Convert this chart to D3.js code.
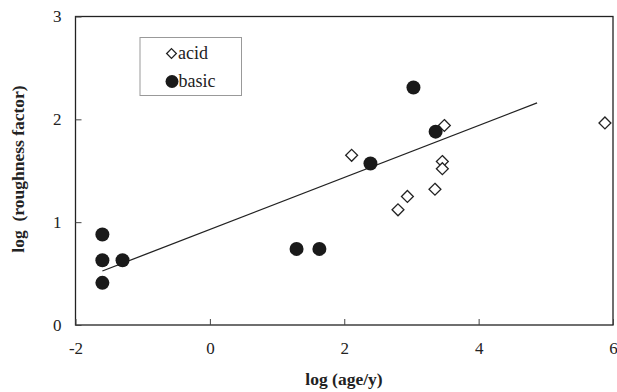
<!DOCTYPE html>
<html><head><meta charset="utf-8">
<script src="https://cdn.jsdelivr.net/npm/d3@7/dist/d3.min.js"></script>
<style>body{margin:0;background:#fff}svg{display:block}text{font-family:"Liberation Serif","Times New Roman",serif;white-space:pre}</style>
</head><body>
<svg id="c" width="617" height="392"></svg>
<script>
const acidX = [2.11, 3.49, 3.46, 3.46, 3.35, 2.94, 2.80, 5.88];
const acidY = [1.65, 1.94, 1.59, 1.52, 1.32, 1.25, 1.12, 1.965];
const basicX = [-1.6, -1.6, -1.6, -1.3, 1.29, 1.63, 3.03, 3.36, 2.39];
const basicY = [0.88, 0.63, 0.41, 0.63, 0.74, 0.74, 2.31, 1.88, 1.57];
const fitX = [-1.6, 4.87];
const fitY = [0.525, 2.16];
const xTicks = [-2, 0, 2, 4, 6];
const yTicks = [0, 1, 2, 3];

const svg = d3.select("#c");
const L = 75.5, R = 613, T = 16.5, B = 325;
const x = d3.scaleLinear().domain([-2, 6]).range([L, R]);
const y = d3.scaleLinear().domain([0, 3]).range([B, T]);
const serif = '"Liberation Serif","Times New Roman",serif';

svg.append("rect").attr("x", L).attr("y", T).attr("width", R - L).attr("height", B - T)
  .attr("fill", "none").attr("stroke", "#222").attr("stroke-width", 1.3);

const xa = svg.append("g").attr("transform", `translate(0,${B})`)
  .call(d3.axisBottom(x).tickValues(xTicks).tickSize(-6).tickPadding(17).tickFormat(d => String(d)));
const ya = svg.append("g").attr("transform", `translate(${L},0)`)
  .call(d3.axisLeft(y).tickValues(yTicks).tickSize(-6).tickPadding(14).tickFormat(d => String(d)));
[xa, ya].forEach(a => {
  a.attr("font-family", serif);
  a.select(".domain").remove();
  a.selectAll("line").attr("stroke", "#444");
  a.selectAll("text").attr("font-size", 17).attr("fill", "#222").style("font-family", serif);
});

// regression line
svg.append("line").attr("x1", x(fitX[0])).attr("y1", y(fitY[0]))
  .attr("x2", x(fitX[1])).attr("y2", y(fitY[1])).attr("stroke", "#222").attr("stroke-width", 1.3);

const diamond = d3.symbol().type(d3.symbolDiamond2).size(90);
// acid points
svg.append("g").selectAll("path").data(acidX.map((v, i) => [v, acidY[i]])).join("path")
  .attr("d", diamond).attr("transform", d => `translate(${x(d[0])},${y(d[1])})`)
  .attr("fill", "#fff").attr("stroke", "#222").attr("stroke-width", 1.3);
// basic points
svg.append("g").selectAll("circle").data(basicX.map((v, i) => [v, basicY[i]])).join("circle")
  .attr("cx", d => x(d[0])).attr("cy", d => y(d[1])).attr("r", 7).attr("fill", "#1a1a1a");

// legend
const lg = svg.append("g");
lg.append("rect").attr("x", 140).attr("y", 37.5).attr("width", 101.5).attr("height", 58)
  .attr("fill", "#fff").attr("stroke", "#999").attr("stroke-width", 1);
lg.append("path").attr("d", d3.symbol().type(d3.symbolDiamond2).size(60))
  .attr("transform", "translate(171.5,53.5)").attr("fill", "#fff").attr("stroke", "#222").attr("stroke-width", 1.3);
lg.append("text").attr("x", 178).attr("y", 59).attr("font-size", 18).attr("fill", "#222").text("acid");
lg.append("circle").attr("cx", 172).attr("cy", 81.5).attr("r", 6.5).attr("fill", "#1a1a1a");
lg.append("text").attr("x", 178.5).attr("y", 87).attr("font-size", 18).attr("fill", "#222").text("basic");

// axis titles
svg.append("text").attr("x", 344).attr("y", 385).attr("text-anchor", "middle")
  .attr("font-size", 17.5).attr("font-weight", "bold").attr("fill", "#222").text("log (age/y)");
svg.append("text").attr("transform", "translate(24,169) rotate(-90)").attr("text-anchor", "middle")
  .attr("font-size", 17.5).attr("font-weight", "bold").attr("fill", "#222").text("log  (roughness factor)");
</script>
</body></html>
